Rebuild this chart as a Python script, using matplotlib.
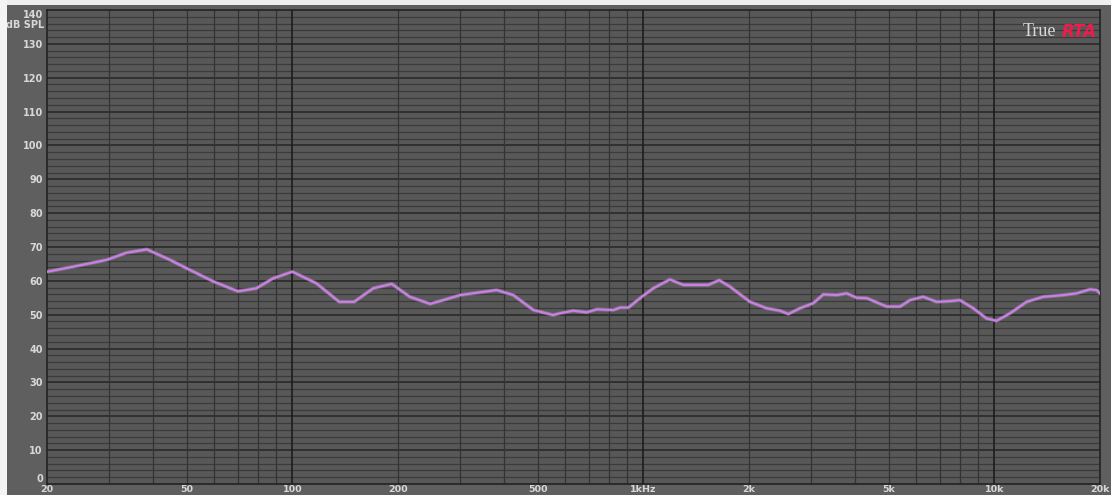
import numpy as np
import matplotlib
matplotlib.use("Agg")
from matplotlib import pyplot as plt
from matplotlib.patches import Rectangle

# frequency response
freq_hz = [20, 23.8, 29.6, 33.7, 38.5, 44.8, 50, 59.6, 70, 79, 88, 100, 117,
           136, 150, 170, 192, 216, 247, 269, 301, 382, 426, 486, 553, 578,
           631, 690, 737, 822, 859, 907, 990, 1067, 1190, 1300, 1419, 1531,
           1645, 1765, 2013, 2245, 2449, 2588, 2793, 3049, 3257, 3554, 3797,
           4055, 4329, 4934, 5385, 5750, 6270, 6845, 7470, 7980, 8710, 9500,
           10150, 11080, 12360, 13780, 15720, 17160, 18720, 19550, 20000]
spl_db = [62.7, 64.2, 66.2, 68.3, 69.3, 66.2, 63.7, 59.8, 56.9, 57.8, 60.7,
          62.7, 59.3, 53.8, 53.8, 57.8, 59.1, 55.3, 53.2, 54.3, 55.8, 57.3,
          55.8, 51.4, 49.9, 50.4, 51.2, 50.7, 51.6, 51.4, 52.1, 52.1, 55.3,
          57.8, 60.4, 58.8, 58.8, 58.8, 60.2, 58.3, 53.8, 51.9, 51.2, 50.2,
          51.9, 53.4, 56.0, 55.8, 56.3, 55.0, 54.9, 52.4, 52.4, 54.3, 55.3,
          53.8, 54.0, 54.3, 51.9, 48.9, 48.2, 50.4, 53.8, 55.3, 55.8, 56.3,
          57.5, 57.3, 56.3]

x_ticks = [20, 50, 100, 200, 500, 1000, 2000, 5000, 10000, 20000]
x_labels = ["20", "50", "100", "200", "500", "1kHz", "2k", "5k", "10k", "20k"]
y_ticks = list(range(0, 141, 10))

PANEL = "#5f5f5f"
PLOT_BG = "#585858"
TXT = "#d8d8d8"
LABEL_FONT = "DejaVu Sans"

fig = plt.figure(figsize=(11.11, 4.95), dpi=100, facecolor=PANEL)
ax = fig.add_axes([47 / 1111, 11 / 495, 1053 / 1111, 474 / 495])
ax.set_facecolor(PLOT_BG)

# thin light border of the window
fig.patches.append(Rectangle((0, 1 - 5 / 495), 1, 5 / 495, transform=fig.transFigure,
                             facecolor="#eeeeee", edgecolor="none", zorder=0))
fig.patches.append(Rectangle((0, 0), 7 / 1111, 1, transform=fig.transFigure,
                             facecolor="#f4f4f4", edgecolor="none", zorder=0))

ax.set_xscale("log")
ax.set_xlim(20, 20000)
ax.set_ylim(0, 140)

# grid: 2 dB minor, 10 dB major; 1-2-3... per decade vertically
for db in np.arange(2, 140, 2):
    major = db % 10 == 0
    ax.axhline(db, color="#262626" if major else "#3b3b3b",
               lw=1.1 if major else 0.9, zorder=1)
for dec in [10, 100, 1000, 10000]:
    for m in range(1, 10):
        f = dec * m
        if f <= 20 or f >= 20000 or (dec == 10 and m < 2):
            continue
        strong = m == 1
        ax.axvline(f, color="#1c1c1c" if strong else "#333333",
                   lw=1.2 if strong else 0.9, zorder=1)

ax.plot(freq_hz, spl_db, color="#e0a8f0", lw=2.8, alpha=0.3, zorder=3,
        solid_joinstyle="round")
ax.plot(freq_hz, spl_db, color="#c880e2", lw=1.6, zorder=4,
        solid_joinstyle="round")

for s in ax.spines.values():
    s.set_color("#222222")
    s.set_linewidth(1.2)

ax.set_xticks(x_ticks)
ax.set_xticklabels(x_labels)
ax.xaxis.set_minor_locator(plt.NullLocator())
ax.set_yticks(y_ticks)
ax.set_yticklabels([str(v) for v in y_ticks])
ax.tick_params(axis="both", length=0, colors=TXT, labelsize=7)
ax.tick_params(axis="x", labelsize=6.8, pad=0.8)
ax.tick_params(axis="y", pad=3)
for lab in ax.get_xticklabels() + ax.get_yticklabels():
    lab.set_family(LABEL_FONT)
    lab.set_fontweight("bold")

# end labels are pulled inside the plot range, like the RTA screen does
ylabs = ax.get_yticklabels()
ylabs[0].set_verticalalignment("bottom")
ylabs[-1].set_verticalalignment("top")

ax.text(-3 / 1053, 135.6, "dB SPL", transform=ax.get_yaxis_transform(),
        ha="right", va="center", color=TXT, fontsize=7, fontweight="bold",
        family=LABEL_FONT)

# logo
ax.text(0.9585, 0.972, "True", transform=ax.transAxes, ha="right", va="top",
        color="#d8d8d8", fontsize=13, family="Liberation Serif", zorder=5)
ax.text(0.997, 0.973, "RTA", transform=ax.transAxes, ha="right", va="top",
        color="#ee1c48", fontsize=12, fontweight="heavy", style="italic",
        family="DejaVu Sans", zorder=5)

fig.savefig("out.png", dpi=100, facecolor=PANEL)
